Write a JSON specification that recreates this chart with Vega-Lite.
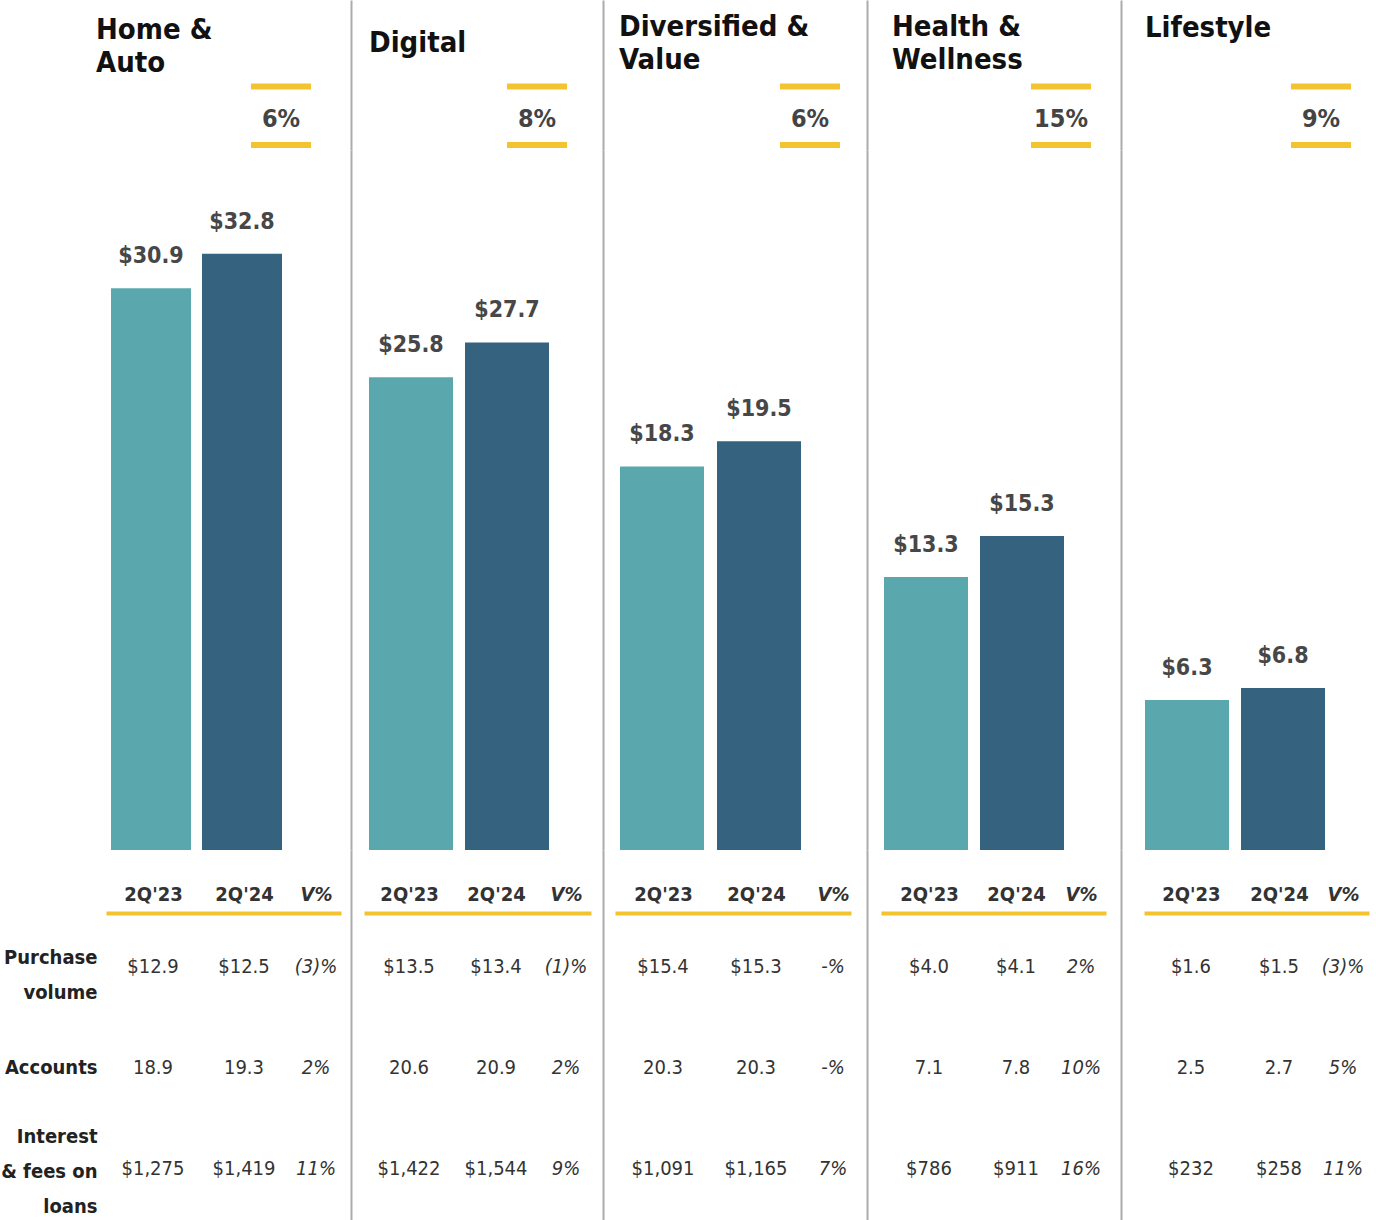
{
  "$schema": "https://vega.github.io/schema/vega-lite/v6.json",
  "padding": 0,
  "background": "white",
  "spacing": 0,
  "datasets": {
    "segs": [
      {"segment": "Home & Auto", "title": "Home &\nAuto", "growth": "6%"},
      {"segment": "Digital", "title": "Digital", "growth": "8%"},
      {"segment": "Diversified & Value", "title": "Diversified &\nValue", "growth": "6%"},
      {"segment": "Health & Wellness", "title": "Health &\nWellness", "growth": "15%"},
      {"segment": "Lifestyle", "title": "Lifestyle", "growth": "9%"}
    ],
    "bars": [
      {"segment": "Home & Auto", "period": "2Q'23", "value": 30.9},
      {"segment": "Home & Auto", "period": "2Q'24", "value": 32.8},
      {"segment": "Digital", "period": "2Q'23", "value": 25.8},
      {"segment": "Digital", "period": "2Q'24", "value": 27.7},
      {"segment": "Diversified & Value", "period": "2Q'23", "value": 18.3},
      {"segment": "Diversified & Value", "period": "2Q'24", "value": 19.5},
      {"segment": "Health & Wellness", "period": "2Q'23", "value": 13.3},
      {"segment": "Health & Wellness", "period": "2Q'24", "value": 15.3},
      {"segment": "Lifestyle", "period": "2Q'23", "value": 6.3},
      {"segment": "Lifestyle", "period": "2Q'24", "value": 6.8}
    ],
    "table": [
      {"segment": "Home & Auto", "metric": "Purchase volume", "col": "2Q'23", "text": "$12.9"},
      {"segment": "Home & Auto", "metric": "Purchase volume", "col": "2Q'24", "text": "$12.5"},
      {"segment": "Home & Auto", "metric": "Purchase volume", "col": "V%", "text": "(3)%"},
      {"segment": "Home & Auto", "metric": "Accounts", "col": "2Q'23", "text": "18.9"},
      {"segment": "Home & Auto", "metric": "Accounts", "col": "2Q'24", "text": "19.3"},
      {"segment": "Home & Auto", "metric": "Accounts", "col": "V%", "text": "2%"},
      {"segment": "Home & Auto", "metric": "Interest & fees on loans", "col": "2Q'23", "text": "$1,275"},
      {"segment": "Home & Auto", "metric": "Interest & fees on loans", "col": "2Q'24", "text": "$1,419"},
      {"segment": "Home & Auto", "metric": "Interest & fees on loans", "col": "V%", "text": "11%"},
      {"segment": "Digital", "metric": "Purchase volume", "col": "2Q'23", "text": "$13.5"},
      {"segment": "Digital", "metric": "Purchase volume", "col": "2Q'24", "text": "$13.4"},
      {"segment": "Digital", "metric": "Purchase volume", "col": "V%", "text": "(1)%"},
      {"segment": "Digital", "metric": "Accounts", "col": "2Q'23", "text": "20.6"},
      {"segment": "Digital", "metric": "Accounts", "col": "2Q'24", "text": "20.9"},
      {"segment": "Digital", "metric": "Accounts", "col": "V%", "text": "2%"},
      {"segment": "Digital", "metric": "Interest & fees on loans", "col": "2Q'23", "text": "$1,422"},
      {"segment": "Digital", "metric": "Interest & fees on loans", "col": "2Q'24", "text": "$1,544"},
      {"segment": "Digital", "metric": "Interest & fees on loans", "col": "V%", "text": "9%"},
      {"segment": "Diversified & Value", "metric": "Purchase volume", "col": "2Q'23", "text": "$15.4"},
      {"segment": "Diversified & Value", "metric": "Purchase volume", "col": "2Q'24", "text": "$15.3"},
      {"segment": "Diversified & Value", "metric": "Purchase volume", "col": "V%", "text": "-%"},
      {"segment": "Diversified & Value", "metric": "Accounts", "col": "2Q'23", "text": "20.3"},
      {"segment": "Diversified & Value", "metric": "Accounts", "col": "2Q'24", "text": "20.3"},
      {"segment": "Diversified & Value", "metric": "Accounts", "col": "V%", "text": "-%"},
      {"segment": "Diversified & Value", "metric": "Interest & fees on loans", "col": "2Q'23", "text": "$1,091"},
      {"segment": "Diversified & Value", "metric": "Interest & fees on loans", "col": "2Q'24", "text": "$1,165"},
      {"segment": "Diversified & Value", "metric": "Interest & fees on loans", "col": "V%", "text": "7%"},
      {"segment": "Health & Wellness", "metric": "Purchase volume", "col": "2Q'23", "text": "$4.0"},
      {"segment": "Health & Wellness", "metric": "Purchase volume", "col": "2Q'24", "text": "$4.1"},
      {"segment": "Health & Wellness", "metric": "Purchase volume", "col": "V%", "text": "2%"},
      {"segment": "Health & Wellness", "metric": "Accounts", "col": "2Q'23", "text": "7.1"},
      {"segment": "Health & Wellness", "metric": "Accounts", "col": "2Q'24", "text": "7.8"},
      {"segment": "Health & Wellness", "metric": "Accounts", "col": "V%", "text": "10%"},
      {"segment": "Health & Wellness", "metric": "Interest & fees on loans", "col": "2Q'23", "text": "$786"},
      {"segment": "Health & Wellness", "metric": "Interest & fees on loans", "col": "2Q'24", "text": "$911"},
      {"segment": "Health & Wellness", "metric": "Interest & fees on loans", "col": "V%", "text": "16%"},
      {"segment": "Lifestyle", "metric": "Purchase volume", "col": "2Q'23", "text": "$1.6"},
      {"segment": "Lifestyle", "metric": "Purchase volume", "col": "2Q'24", "text": "$1.5"},
      {"segment": "Lifestyle", "metric": "Purchase volume", "col": "V%", "text": "(3)%"},
      {"segment": "Lifestyle", "metric": "Accounts", "col": "2Q'23", "text": "2.5"},
      {"segment": "Lifestyle", "metric": "Accounts", "col": "2Q'24", "text": "2.7"},
      {"segment": "Lifestyle", "metric": "Accounts", "col": "V%", "text": "5%"},
      {"segment": "Lifestyle", "metric": "Interest & fees on loans", "col": "2Q'23", "text": "$232"},
      {"segment": "Lifestyle", "metric": "Interest & fees on loans", "col": "2Q'24", "text": "$258"},
      {"segment": "Lifestyle", "metric": "Interest & fees on loans", "col": "V%", "text": "11%"}
    ]
  },
  "hconcat": [
    {
      "spacing": 0,
      "vconcat": [
        {
          "width": 250, "height": 150,
          "data": {"name": "segs"},
          "transform": [{"filter": "datum.segment === 'Home & Auto'"}],
          "layer": [
            {"mark": {"type": "text", "align": "left", "baseline": "alphabetic", "fontSize": 29, "fontWeight": "bold", "color": "#111111", "lineBreak": "\n", "lineHeight": 33},
             "encoding": {
               "x": {"datum": "title", "type": "nominal", "scale": {"type": "point", "domain": ["title", "growth"], "range": [-5, 180], "padding": 0}, "axis": null},
               "y": {"datum": 39, "type": "quantitative", "scale": {"domain": [0, 150], "reverse": true, "nice": false, "zero": false}, "axis": null, "title": null},
               "text": {"field": "title", "type": "nominal"}}},
            {"mark": {"type": "text", "align": "center", "baseline": "alphabetic", "fontSize": 25, "fontWeight": "bold", "color": "#444444"},
             "encoding": {
               "x": {"datum": "growth", "type": "nominal", "scale": {"type": "point", "domain": ["title", "growth"], "range": [-5, 180], "padding": 0}, "axis": null},
               "y": {"datum": 127, "type": "quantitative", "scale": {"domain": [0, 150], "reverse": true, "nice": false, "zero": false}, "axis": null, "title": null},
               "text": {"field": "growth", "type": "nominal"}}},
            {"mark": {"type": "tick", "color": "#F4C430", "size": 60, "thickness": 6, "opacity": 1},
             "encoding": {
               "x": {"datum": "growth", "type": "nominal", "scale": {"type": "point", "domain": ["title", "growth"], "range": [-5, 180], "padding": 0}, "axis": null},
               "y": {"datum": 86.5, "type": "quantitative", "scale": {"domain": [0, 150], "reverse": true, "nice": false, "zero": false}, "axis": null, "title": null}}},
            {"mark": {"type": "tick", "color": "#F4C430", "size": 60, "thickness": 6, "opacity": 1},
             "encoding": {
               "x": {"datum": "growth", "type": "nominal", "scale": {"type": "point", "domain": ["title", "growth"], "range": [-5, 180], "padding": 0}, "axis": null},
               "y": {"datum": 145, "type": "quantitative", "scale": {"domain": [0, 150], "reverse": true, "nice": false, "zero": false}, "axis": null, "title": null}}}
          ]
        },
        {
          "width": 250, "height": 700,
          "data": {"name": "bars"},
          "transform": [{"filter": "datum.segment === 'Home & Auto'"}],
          "encoding": {
            "x": {"field": "period", "type": "nominal", "scale": {"type": "band", "domain": ["2Q'23", "2Q'24"], "range": [10, 181], "paddingInner": 0.121, "paddingOuter": 0}, "axis": null},
            "y": {"field": "value", "type": "quantitative", "scale": {"domain": [0, 38.5], "nice": false}, "axis": null, "title": null}
          },
          "layer": [
            {"mark": {"type": "bar"}, "encoding": {"color": {"field": "period", "type": "nominal", "scale": {"domain": ["2Q'23", "2Q'24"], "range": ["#5AA8AE", "#34627F"]}, "legend": null}}},
            {"mark": {"type": "text", "baseline": "alphabetic", "dy": -25, "fontSize": 23, "fontWeight": "bold", "color": "#474747"}, "encoding": {"text": {"field": "value", "type": "quantitative", "format": "$.1f"}}}
          ]
        },
        {
          "width": 250, "height": 370,
          "data": {"name": "table"},
          "transform": [{"filter": "datum.segment === 'Home & Auto'"}],
          "encoding": {
            "x": {"field": "col", "type": "nominal", "scale": {"type": "point", "domain": ["2Q'23", "2Q'24", "V%"], "range": [5, 240], "padding": 0.291, "align": 0.887},
                  "axis": {"orient": "top", "offset": -63, "domainColor": "#F4C430", "domainWidth": 4, "ticks": false, "labelAngle": 0, "labelFontSize": 20, "labelFontWeight": "bold", "labelColor": "#333333", "labelBaseline": "alphabetic", "labelPadding": 13, "labelFontStyle": {"condition": {"test": "datum.value === 'V%'", "value": "italic"}, "value": "normal"}, "labelOffset": {"condition": {"test": "datum.value === 'V%'", "value": -19}, "value": 0}, "title": null, "minExtent": 0, "maxExtent": 0}},
            "y": {"field": "metric", "type": "nominal", "scale": {"type": "band", "domain": ["Purchase volume", "Accounts", "Interest & fees on loans"], "paddingInner": 0, "paddingOuter": 0.3257, "align": 1}, "title": null,
                  "axis": {"labels": true, "domain": false, "ticks": false, "labelExpr": "datum.value === 'Purchase volume' ? ['Purchase', 'volume'] : datum.value === 'Interest & fees on loans' ? ['Interest', '& fees on', 'loans'] : datum.value", "labelFontSize": 20, "labelFontWeight": "bold", "labelColor": "#222222", "labelAlign": "right", "labelBaseline": "middle", "labelLineHeight": 35, "labelPadding": 4,
                           "labelOffset": {"condition": [{"test": "datum.value === 'Purchase volume'", "value": -9}, {"test": "datum.value === 'Interest & fees on loans'", "value": -32}], "value": 0},
                           "minExtent": 100, "maxExtent": 100, "title": null}}
          },
          "layer": [
            {"transform": [{"filter": "datum.col !== 'V%'"}], "mark": {"type": "text", "fontSize": 20, "color": "#333333", "baseline": "middle"}, "encoding": {"text": {"field": "text", "type": "nominal"}}},
            {"transform": [{"filter": "datum.col === 'V%'"}], "mark": {"type": "text", "fontSize": 20, "fontStyle": "italic", "color": "#333333", "baseline": "middle", "dx": -19}, "encoding": {"text": {"field": "text", "type": "nominal"}}}
          ]
        }
      ]
    },
    {
      "spacing": 0,
      "vconcat": [
        {
          "width": 252, "height": 150,
          "data": {"name": "segs"},
          "transform": [{"filter": "datum.segment === 'Digital'"}],
          "layer": [
            {"mark": {"type": "text", "align": "left", "baseline": "alphabetic", "fontSize": 29, "fontWeight": "bold", "color": "#111111", "lineBreak": "\n", "lineHeight": 33},
             "encoding": {
               "x": {"datum": "title", "type": "nominal", "scale": {"type": "point", "domain": ["title", "growth"], "range": [18, 186], "padding": 0}, "axis": null},
               "y": {"datum": 52, "type": "quantitative", "scale": {"domain": [0, 150], "reverse": true, "nice": false, "zero": false}, "title": null},
               "text": {"field": "title", "type": "nominal"}}},
            {"mark": {"type": "text", "align": "center", "baseline": "alphabetic", "fontSize": 25, "fontWeight": "bold", "color": "#444444"},
             "encoding": {
               "x": {"datum": "growth", "type": "nominal", "scale": {"type": "point", "domain": ["title", "growth"], "range": [18, 186], "padding": 0}, "axis": null},
               "y": {"datum": 127, "type": "quantitative", "scale": {"domain": [0, 150], "reverse": true, "nice": false, "zero": false}, "title": null},
               "text": {"field": "growth", "type": "nominal"}}},
            {"mark": {"type": "tick", "color": "#F4C430", "size": 60, "thickness": 6, "opacity": 1},
             "encoding": {
               "x": {"datum": "growth", "type": "nominal", "scale": {"type": "point", "domain": ["title", "growth"], "range": [18, 186], "padding": 0}, "axis": null},
               "y": {"datum": 86.5, "type": "quantitative", "scale": {"domain": [0, 150], "reverse": true, "nice": false, "zero": false}, "title": null}}},
            {"mark": {"type": "tick", "color": "#F4C430", "size": 60, "thickness": 6, "opacity": 1},
             "encoding": {
               "x": {"datum": "growth", "type": "nominal", "scale": {"type": "point", "domain": ["title", "growth"], "range": [18, 186], "padding": 0}, "axis": null},
               "y": {"datum": 145, "type": "quantitative", "scale": {"domain": [0, 150], "reverse": true, "nice": false, "zero": false}, "title": null}}}
          ]
        },
        {
          "width": 252, "height": 700,
          "data": {"name": "bars"},
          "transform": [{"filter": "datum.segment === 'Digital'"}],
          "encoding": {
            "x": {"field": "period", "type": "nominal", "scale": {"type": "band", "domain": ["2Q'23", "2Q'24"], "range": [18, 198], "paddingInner": 0.125, "paddingOuter": 0}, "axis": null},
            "y": {"field": "value", "type": "quantitative", "scale": {"domain": [0, 38.2], "nice": false}, "title": null}
          },
          "layer": [
            {"mark": {"type": "bar"}, "encoding": {"color": {"field": "period", "type": "nominal", "scale": {"domain": ["2Q'23", "2Q'24"], "range": ["#5AA8AE", "#34627F"]}, "legend": null}}},
            {"mark": {"type": "text", "baseline": "alphabetic", "dy": -25, "fontSize": 23, "fontWeight": "bold", "color": "#474747"}, "encoding": {"text": {"field": "value", "type": "quantitative", "format": "$.1f"}}}
          ]
        },
        {
          "width": 252, "height": 370,
          "data": {"name": "table"},
          "transform": [{"filter": "datum.segment === 'Digital'"}],
          "encoding": {
            "x": {"field": "col", "type": "nominal", "scale": {"type": "point", "domain": ["2Q'23", "2Q'24", "V%"], "range": [13, 240], "padding": 0.305, "align": 0.849},
                  "axis": {"orient": "top", "offset": -63, "domainColor": "#F4C430", "domainWidth": 4, "ticks": false, "labelAngle": 0, "labelFontSize": 20, "labelFontWeight": "bold", "labelColor": "#333333", "labelBaseline": "alphabetic", "labelPadding": 13, "labelFontStyle": {"condition": {"test": "datum.value === 'V%'", "value": "italic"}, "value": "normal"}, "labelOffset": {"condition": {"test": "datum.value === 'V%'", "value": -17}, "value": 0}, "title": null, "minExtent": 0, "maxExtent": 0}},
            "y": {"field": "metric", "type": "nominal", "scale": {"type": "band", "domain": ["Purchase volume", "Accounts", "Interest & fees on loans"], "paddingInner": 0, "paddingOuter": 0.3257, "align": 1}, "title": null}
          },
          "layer": [
            {"transform": [{"filter": "datum.col !== 'V%'"}], "mark": {"type": "text", "fontSize": 20, "color": "#333333", "baseline": "middle"}, "encoding": {"text": {"field": "text", "type": "nominal"}}},
            {"transform": [{"filter": "datum.col === 'V%'"}], "mark": {"type": "text", "fontSize": 20, "fontStyle": "italic", "color": "#333333", "baseline": "middle", "dx": -17}, "encoding": {"text": {"field": "text", "type": "nominal"}}}
          ]
        }
      ]
    },
    {
      "spacing": 0,
      "vconcat": [
        {
          "width": 264, "height": 150,
          "data": {"name": "segs"},
          "transform": [{"filter": "datum.segment === 'Diversified & Value'"}],
          "layer": [
            {"mark": {"type": "text", "align": "left", "baseline": "alphabetic", "fontSize": 29, "fontWeight": "bold", "color": "#111111", "lineBreak": "\n", "lineHeight": 33},
             "encoding": {
               "x": {"datum": "title", "type": "nominal", "scale": {"type": "point", "domain": ["title", "growth"], "range": [16, 207], "padding": 0}, "axis": null},
               "y": {"datum": 36, "type": "quantitative", "scale": {"domain": [0, 150], "reverse": true, "nice": false, "zero": false}, "title": null},
               "text": {"field": "title", "type": "nominal"}}},
            {"mark": {"type": "text", "align": "center", "baseline": "alphabetic", "fontSize": 25, "fontWeight": "bold", "color": "#444444"},
             "encoding": {
               "x": {"datum": "growth", "type": "nominal", "scale": {"type": "point", "domain": ["title", "growth"], "range": [16, 207], "padding": 0}, "axis": null},
               "y": {"datum": 127, "type": "quantitative", "scale": {"domain": [0, 150], "reverse": true, "nice": false, "zero": false}, "title": null},
               "text": {"field": "growth", "type": "nominal"}}},
            {"mark": {"type": "tick", "color": "#F4C430", "size": 60, "thickness": 6, "opacity": 1},
             "encoding": {
               "x": {"datum": "growth", "type": "nominal", "scale": {"type": "point", "domain": ["title", "growth"], "range": [16, 207], "padding": 0}, "axis": null},
               "y": {"datum": 86.5, "type": "quantitative", "scale": {"domain": [0, 150], "reverse": true, "nice": false, "zero": false}, "title": null}}},
            {"mark": {"type": "tick", "color": "#F4C430", "size": 60, "thickness": 6, "opacity": 1},
             "encoding": {
               "x": {"datum": "growth", "type": "nominal", "scale": {"type": "point", "domain": ["title", "growth"], "range": [16, 207], "padding": 0}, "axis": null},
               "y": {"datum": 145, "type": "quantitative", "scale": {"domain": [0, 150], "reverse": true, "nice": false, "zero": false}, "title": null}}}
          ]
        },
        {
          "width": 264, "height": 700,
          "data": {"name": "bars"},
          "transform": [{"filter": "datum.segment === 'Diversified & Value'"}],
          "encoding": {
            "x": {"field": "period", "type": "nominal", "scale": {"type": "band", "domain": ["2Q'23", "2Q'24"], "range": [17, 198], "paddingInner": 0.134, "paddingOuter": 0}, "axis": null},
            "y": {"field": "value", "type": "quantitative", "scale": {"domain": [0, 33.4], "nice": false}, "title": null}
          },
          "layer": [
            {"mark": {"type": "bar"}, "encoding": {"color": {"field": "period", "type": "nominal", "scale": {"domain": ["2Q'23", "2Q'24"], "range": ["#5AA8AE", "#34627F"]}, "legend": null}}},
            {"mark": {"type": "text", "baseline": "alphabetic", "dy": -25, "fontSize": 23, "fontWeight": "bold", "color": "#474747"}, "encoding": {"text": {"field": "value", "type": "quantitative", "format": "$.1f"}}}
          ]
        },
        {
          "width": 264, "height": 370,
          "data": {"name": "table"},
          "transform": [{"filter": "datum.segment === 'Diversified & Value'"}],
          "encoding": {
            "x": {"field": "col", "type": "nominal", "scale": {"type": "point", "domain": ["2Q'23", "2Q'24", "V%"], "range": [12, 248], "padding": 0.269, "align": 0.96},
                  "axis": {"orient": "top", "offset": -63, "domainColor": "#F4C430", "domainWidth": 4, "ticks": false, "labelAngle": 0, "labelFontSize": 20, "labelFontWeight": "bold", "labelColor": "#333333", "labelBaseline": "alphabetic", "labelPadding": 13, "labelFontStyle": {"condition": {"test": "datum.value === 'V%'", "value": "italic"}, "value": "normal"}, "labelOffset": {"condition": {"test": "datum.value === 'V%'", "value": -16}, "value": 0}, "title": null, "minExtent": 0, "maxExtent": 0}},
            "y": {"field": "metric", "type": "nominal", "scale": {"type": "band", "domain": ["Purchase volume", "Accounts", "Interest & fees on loans"], "paddingInner": 0, "paddingOuter": 0.3257, "align": 1}, "title": null}
          },
          "layer": [
            {"transform": [{"filter": "datum.col !== 'V%'"}], "mark": {"type": "text", "fontSize": 20, "color": "#333333", "baseline": "middle"}, "encoding": {"text": {"field": "text", "type": "nominal"}}},
            {"transform": [{"filter": "datum.col === 'V%'"}], "mark": {"type": "text", "fontSize": 20, "fontStyle": "italic", "color": "#333333", "baseline": "middle", "dx": -16}, "encoding": {"text": {"field": "text", "type": "nominal"}}}
          ]
        }
      ]
    },
    {
      "spacing": 0,
      "vconcat": [
        {
          "width": 254, "height": 150,
          "data": {"name": "segs"},
          "transform": [{"filter": "datum.segment === 'Health & Wellness'"}],
          "layer": [
            {"mark": {"type": "text", "align": "left", "baseline": "alphabetic", "fontSize": 29, "fontWeight": "bold", "color": "#111111", "lineBreak": "\n", "lineHeight": 33},
             "encoding": {
               "x": {"datum": "title", "type": "nominal", "scale": {"type": "point", "domain": ["title", "growth"], "range": [25, 194], "padding": 0}, "axis": null},
               "y": {"datum": 36, "type": "quantitative", "scale": {"domain": [0, 150], "reverse": true, "nice": false, "zero": false}, "title": null},
               "text": {"field": "title", "type": "nominal"}}},
            {"mark": {"type": "text", "align": "center", "baseline": "alphabetic", "fontSize": 25, "fontWeight": "bold", "color": "#444444"},
             "encoding": {
               "x": {"datum": "growth", "type": "nominal", "scale": {"type": "point", "domain": ["title", "growth"], "range": [25, 194], "padding": 0}, "axis": null},
               "y": {"datum": 127, "type": "quantitative", "scale": {"domain": [0, 150], "reverse": true, "nice": false, "zero": false}, "title": null},
               "text": {"field": "growth", "type": "nominal"}}},
            {"mark": {"type": "tick", "color": "#F4C430", "size": 60, "thickness": 6, "opacity": 1},
             "encoding": {
               "x": {"datum": "growth", "type": "nominal", "scale": {"type": "point", "domain": ["title", "growth"], "range": [25, 194], "padding": 0}, "axis": null},
               "y": {"datum": 86.5, "type": "quantitative", "scale": {"domain": [0, 150], "reverse": true, "nice": false, "zero": false}, "title": null}}},
            {"mark": {"type": "tick", "color": "#F4C430", "size": 60, "thickness": 6, "opacity": 1},
             "encoding": {
               "x": {"datum": "growth", "type": "nominal", "scale": {"type": "point", "domain": ["title", "growth"], "range": [25, 194], "padding": 0}, "axis": null},
               "y": {"datum": 145, "type": "quantitative", "scale": {"domain": [0, 150], "reverse": true, "nice": false, "zero": false}, "title": null}}}
          ]
        },
        {
          "width": 254, "height": 700,
          "data": {"name": "bars"},
          "transform": [{"filter": "datum.segment === 'Health & Wellness'"}],
          "encoding": {
            "x": {"field": "period", "type": "nominal", "scale": {"type": "band", "domain": ["2Q'23", "2Q'24"], "range": [17, 197], "paddingInner": 0.125, "paddingOuter": 0}, "axis": null},
            "y": {"field": "value", "type": "quantitative", "scale": {"domain": [0, 34.1], "nice": false}, "title": null}
          },
          "layer": [
            {"mark": {"type": "bar"}, "encoding": {"color": {"field": "period", "type": "nominal", "scale": {"domain": ["2Q'23", "2Q'24"], "range": ["#5AA8AE", "#34627F"]}, "legend": null}}},
            {"mark": {"type": "text", "baseline": "alphabetic", "dy": -25, "fontSize": 23, "fontWeight": "bold", "color": "#474747"}, "encoding": {"text": {"field": "value", "type": "quantitative", "format": "$.1f"}}}
          ]
        },
        {
          "width": 254, "height": 370,
          "data": {"name": "table"},
          "transform": [{"filter": "datum.segment === 'Health & Wellness'"}],
          "encoding": {
            "x": {"field": "col", "type": "nominal", "scale": {"type": "point", "domain": ["2Q'23", "2Q'24", "V%"], "range": [14, 239], "padding": 0.293, "align": 0.941},
                  "axis": {"orient": "top", "offset": -63, "domainColor": "#F4C430", "domainWidth": 4, "ticks": false, "labelAngle": 0, "labelFontSize": 20, "labelFontWeight": "bold", "labelColor": "#333333", "labelBaseline": "alphabetic", "labelPadding": 13, "labelFontStyle": {"condition": {"test": "datum.value === 'V%'", "value": "italic"}, "value": "normal"}, "labelOffset": {"condition": {"test": "datum.value === 'V%'", "value": -22}, "value": 0}, "title": null, "minExtent": 0, "maxExtent": 0}},
            "y": {"field": "metric", "type": "nominal", "scale": {"type": "band", "domain": ["Purchase volume", "Accounts", "Interest & fees on loans"], "paddingInner": 0, "paddingOuter": 0.3257, "align": 1}, "title": null}
          },
          "layer": [
            {"transform": [{"filter": "datum.col !== 'V%'"}], "mark": {"type": "text", "fontSize": 20, "color": "#333333", "baseline": "middle"}, "encoding": {"text": {"field": "text", "type": "nominal"}}},
            {"transform": [{"filter": "datum.col === 'V%'"}], "mark": {"type": "text", "fontSize": 20, "fontStyle": "italic", "color": "#333333", "baseline": "middle", "dx": -22}, "encoding": {"text": {"field": "text", "type": "nominal"}}}
          ]
        }
      ]
    },
    {
      "spacing": 0,
      "vconcat": [
        {
          "width": 252, "height": 150,
          "data": {"name": "segs"},
          "transform": [{"filter": "datum.segment === 'Lifestyle'"}],
          "layer": [
            {"mark": {"type": "text", "align": "left", "baseline": "alphabetic", "fontSize": 29, "fontWeight": "bold", "color": "#111111", "lineBreak": "\n", "lineHeight": 33},
             "encoding": {
               "x": {"datum": "title", "type": "nominal", "scale": {"type": "point", "domain": ["title", "growth"], "range": [24, 200], "padding": 0}, "axis": null},
               "y": {"datum": 37, "type": "quantitative", "scale": {"domain": [0, 150], "reverse": true, "nice": false, "zero": false}, "title": null},
               "text": {"field": "title", "type": "nominal"}}},
            {"mark": {"type": "text", "align": "center", "baseline": "alphabetic", "fontSize": 25, "fontWeight": "bold", "color": "#444444"},
             "encoding": {
               "x": {"datum": "growth", "type": "nominal", "scale": {"type": "point", "domain": ["title", "growth"], "range": [24, 200], "padding": 0}, "axis": null},
               "y": {"datum": 127, "type": "quantitative", "scale": {"domain": [0, 150], "reverse": true, "nice": false, "zero": false}, "title": null},
               "text": {"field": "growth", "type": "nominal"}}},
            {"mark": {"type": "tick", "color": "#F4C430", "size": 60, "thickness": 6, "opacity": 1},
             "encoding": {
               "x": {"datum": "growth", "type": "nominal", "scale": {"type": "point", "domain": ["title", "growth"], "range": [24, 200], "padding": 0}, "axis": null},
               "y": {"datum": 86.5, "type": "quantitative", "scale": {"domain": [0, 150], "reverse": true, "nice": false, "zero": false}, "title": null}}},
            {"mark": {"type": "tick", "color": "#F4C430", "size": 60, "thickness": 6, "opacity": 1},
             "encoding": {
               "x": {"datum": "growth", "type": "nominal", "scale": {"type": "point", "domain": ["title", "growth"], "range": [24, 200], "padding": 0}, "axis": null},
               "y": {"datum": 145, "type": "quantitative", "scale": {"domain": [0, 150], "reverse": true, "nice": false, "zero": false}, "title": null}}}
          ]
        },
        {
          "width": 252, "height": 700,
          "data": {"name": "bars"},
          "transform": [{"filter": "datum.segment === 'Lifestyle'"}],
          "encoding": {
            "x": {"field": "period", "type": "nominal", "scale": {"type": "band", "domain": ["2Q'23", "2Q'24"], "range": [24, 204], "paddingInner": 0.125, "paddingOuter": 0}, "axis": null},
            "y": {"field": "value", "type": "quantitative", "scale": {"domain": [0, 29.4], "nice": false}, "title": null}
          },
          "layer": [
            {"mark": {"type": "bar"}, "encoding": {"color": {"field": "period", "type": "nominal", "scale": {"domain": ["2Q'23", "2Q'24"], "range": ["#5AA8AE", "#34627F"]}, "legend": null}}},
            {"mark": {"type": "text", "baseline": "alphabetic", "dy": -25, "fontSize": 23, "fontWeight": "bold", "color": "#474747"}, "encoding": {"text": {"field": "value", "type": "quantitative", "format": "$.1f"}}}
          ]
        },
        {
          "width": 252, "height": 370,
          "data": {"name": "table"},
          "transform": [{"filter": "datum.segment === 'Lifestyle'"}],
          "encoding": {
            "x": {"field": "col", "type": "nominal", "scale": {"type": "point", "domain": ["2Q'23", "2Q'24", "V%"], "range": [23, 248], "padding": 0.278, "align": 0.959},
                  "axis": {"orient": "top", "offset": -63, "domainColor": "#F4C430", "domainWidth": 4, "ticks": false, "labelAngle": 0, "labelFontSize": 20, "labelFontWeight": "bold", "labelColor": "#333333", "labelBaseline": "alphabetic", "labelPadding": 13, "labelFontStyle": {"condition": {"test": "datum.value === 'V%'", "value": "italic"}, "value": "normal"}, "labelOffset": {"condition": {"test": "datum.value === 'V%'", "value": -24}, "value": 0}, "title": null, "minExtent": 0, "maxExtent": 0}},
            "y": {"field": "metric", "type": "nominal", "scale": {"type": "band", "domain": ["Purchase volume", "Accounts", "Interest & fees on loans"], "paddingInner": 0, "paddingOuter": 0.3257, "align": 1}, "title": null}
          },
          "layer": [
            {"transform": [{"filter": "datum.col !== 'V%'"}], "mark": {"type": "text", "fontSize": 20, "color": "#333333", "baseline": "middle"}, "encoding": {"text": {"field": "text", "type": "nominal"}}},
            {"transform": [{"filter": "datum.col === 'V%'"}], "mark": {"type": "text", "fontSize": 20, "fontStyle": "italic", "color": "#333333", "baseline": "middle", "dx": -24}, "encoding": {"text": {"field": "text", "type": "nominal"}}}
          ]
        }
      ]
    }
  ],
  "config": {
    "view": {"stroke": null},
    "font": "Liberation Sans Narrow, DejaVu Sans Condensed, sans-serif",
    "axis": {"grid": false},
    "axisY": {"domainColor": "#ababab", "domainWidth": 2, "ticks": false, "labels": false, "minExtent": 0, "maxExtent": 0}
  }
}
